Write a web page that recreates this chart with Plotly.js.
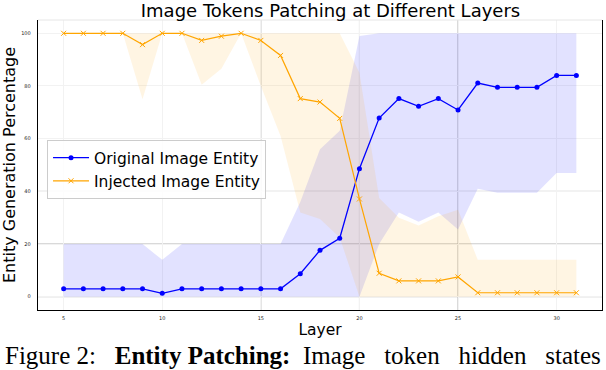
<!DOCTYPE html>
<html>
<head>
<meta charset="utf-8">
<script src="https://cdn.plot.ly/plotly-3.0.1.min.js"></script>
<style>html,body{margin:0;padding:0;background:#fff;}#chart{width:606px;height:370px;}</style>
</head>
<body>
<div id="chart"></div>
<script>
// ---- data ----
const layers   = [5,6,7,8,9,10,11,12,13,14,15,16,17,18,19,20,21,22,23,24,25,26,27,28,29,30,31];
const origMean = [3,3,3,3,3,1.3,3,3,3,3,3,3,8.7,17.6,22.2,48.6,67.8,75.2,72.3,75.2,70.9,81.1,79.5,79.5,79.5,84,84];
const origLow  = [0,0,0,0,0,0,0,0,0,0,0,0,0,0,0,0,20,32,28.5,32,25.5,41,39.5,39.5,39.5,47,47];
const origHigh = [20,20,20,20,20,14,20,20,20,20,20,20,36,56,63,99,100,100,100,100,100,100,100,100,100,100,100];
const injMean  = [100,100,100,100,95.7,100,100,97.3,98.9,100,97.3,91.6,75.2,73.9,67.7,37.1,8.9,6,6,6,7.5,1.5,1.5,1.5,1.5,1.5,1.5];
const injLow   = [100,100,100,100,75,100,100,80.5,86.5,100,80,61,32,29.5,22.5,0,0,0,0,0,0,0,0,0,0,0,0];
const injHigh  = [100,100,100,100,100,100,100,100,100,100,100,100,100,100,100,85,37.5,30,27,30.5,33,14,14,14,14,14,14];
const xTicks = [5,10,15,20,25,30];
const yTicks = [0,20,40,60,80,100];
const seriesNames = ['Original Image Entity','Injected Image Entity'];
const titleText = 'Image Tokens Patching at Different Layers';
const xTitle = 'Layer';
const yTitle = 'Entity Generation Percentage';
const NB = '\u00a0';
const captionText = 'Figure 2:' + NB.repeat(3) + '<b>Entity Patching:</b>' + NB.repeat(2) + 'Image' + NB.repeat(3) + 'token' + NB.repeat(3) + 'hidden' + NB.repeat(3) + 'states';

// ---- styles ----
const BLUE = '#0000ff', ORANGE = '#ffa500';
const darkGridX = [15,20,25], darkGridY = [0,20,40];

const traces = [
  {x: layers, y: origLow, mode:'lines', line:{width:0, color:BLUE}, showlegend:false, hoverinfo:'skip'},
  {x: layers, y: origHigh, mode:'lines', line:{width:0, color:BLUE}, fill:'tonexty', fillcolor:'rgba(0,0,255,0.115)', showlegend:false, hoverinfo:'skip'},
  {x: layers, y: injLow, mode:'lines', line:{width:0, color:ORANGE}, showlegend:false, hoverinfo:'skip'},
  {x: layers, y: injHigh, mode:'lines', line:{width:0, color:ORANGE}, fill:'tonexty', fillcolor:'rgba(255,165,0,0.11)', showlegend:false, hoverinfo:'skip'},
  {x: layers, y: origMean, name: seriesNames[0], mode:'lines+markers', line:{color:BLUE, width:1.3}, marker:{color:BLUE, size:5, symbol:'circle'}},
  {x: layers, y: injMean, name: seriesNames[1], mode:'lines+markers', line:{color:ORANGE, width:1.2}, marker:{color:ORANGE, size:5, symbol:'x-thin', line:{color:ORANGE, width:1}}}
];

const shapes = [];
darkGridX.forEach(v => shapes.push({type:'line', xref:'x', yref:'paper', x0:v, x1:v, y0:0, y1:1, line:{color:'#b0b0b0', width:1}, layer:'below'}));
darkGridY.forEach(v => shapes.push({type:'line', xref:'paper', yref:'y', x0:0, x1:1, y0:v, y1:v, line:{color:'#b0b0b0', width:1}, layer:'below'}));
shapes.push({type:'line', xref:'paper', yref:'paper', x0:0, x1:1, y0:1, y1:1, line:{color:'#e6e6e6', width:1}});

const layout = {
  width: 606, height: 370,
  margin: {l:38, r:4, t:20, b:60},
  paper_bgcolor:'#ffffff', plot_bgcolor:'#ffffff',
  font: {family:'DejaVu Sans', color:'#000'},
  title: {text: titleText, font:{size:18, family:'DejaVu Sans', color:'#000'}, x:0.5186, xref:'paper', xanchor:'center', y:0.972, yref:'container', yanchor:'middle'},
  xaxis: {range:[3.7,32.3], tickvals:xTicks, ticktext:xTicks.map(String), ticks:'outside', ticklen:3, tickcolor:'rgba(0,0,0,0)',
          tickfont:{size:5, color:'#222'}, showgrid:true, gridcolor:'#f2f2f2', gridwidth:1, zeroline:false,
          showline:true, linecolor:'#000', linewidth:1.3, mirror:false,
          title:{text:xTitle, font:{size:15.5, color:'#000'}, standoff:4}},
  yaxis: {range:[-5.05,105.05], tickvals:yTicks, ticktext:yTicks.map(String), ticks:'outside', ticklen:5, tickcolor:'rgba(0,0,0,0)',
          tickfont:{size:5, color:'#222'}, showgrid:true, gridcolor:'#f2f2f2', gridwidth:1, zeroline:false,
          showline:true, linecolor:'#000', linewidth:1.3, mirror:true,
          title:{text:yTitle, font:{size:16, color:'#000'}, standoff:4}},
  legend: {x:0.016, y:0.586, xanchor:'left', yanchor:'top', traceorder:'normal', bgcolor:'rgba(255,255,255,0.85)', bordercolor:'#cccccc', borderwidth:1,
           font:{size:15.5, family:'DejaVu Sans', color:'#000'}, itemwidth:36},
  shapes: shapes,
  annotations: [
    {text: captionText, xref:'paper', yref:'paper', x:-0.0621, y:-0.158, xanchor:'left', yanchor:'middle', showarrow:false,
     font:{family:'Liberation Serif', size:25, color:'#000'}}
  ],
  showlegend: true
};

Plotly.newPlot('chart', traces, layout, {displayModeBar:false, staticPlot:true});
</script>
</body>
</html>
